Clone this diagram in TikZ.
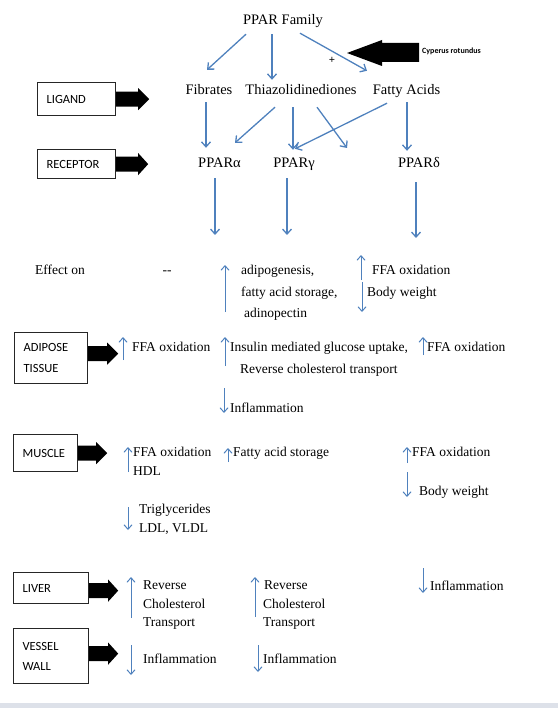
\documentclass[tikz,border=0pt]{standalone}
\usepackage{fontspec}
\setmainfont{Liberation Serif}
\newfontfamily\boxfont{Carlito}
\usetikzlibrary{arrows.meta}

\begin{document}
\begin{tikzpicture}[x=1pt,y=-1pt,
  big/.style={font=\fontsize{14.5}{17}\selectfont,inner sep=0pt,text height=10pt,text depth=3pt},
  txt/.style={font=\fontsize{13.5}{16}\selectfont,inner sep=0pt,text height=9.5pt,text depth=3pt,anchor=west},
  tag/.style={draw=black!85,line width=1.2pt,font=\boxfont\fontsize{12.5}{21}\selectfont,align=left,inner xsep=9pt,inner ysep=0pt,anchor=north west},
  conn/.style={draw=flow,line width=1.3pt,-{Straight Barb[length=5pt,width=9pt]}},
  ind/.style={draw=flow,line width=1pt,-{Straight Barb[length=4.5pt,width=8pt]}},
]
\definecolor{flow}{HTML}{4F81BD}
\definecolor{band}{HTML}{DDE1E9}
\useasboundingbox (0,0) rectangle (558,708);
\fill[band] (0,703) rectangle (558,708);
% family, ligands, receptors
\node[big] (fam) at (283,21) {PPAR Family};
\node[big] (fib) at (209,91) {Fibrates};
\node[big] (thz) at (301,91) {Thiazolidinediones};
\node[big] (fat) at (406.5,91) {Fatty Acids};
\node[big] (pa) at (219.5,164) {PPARα};
\node[big] (pg) at (294,164) {PPARγ};
\node[big] (pd) at (419,164) {PPARδ};
\coordinate (thzfree) at (347,148);
\coordinate (paeff) at (215,235);
\coordinate (pgeff) at (287,235);
\coordinate (pdeff) at (416,238);
\draw[conn] ([xshift=-37pt,yshift=-6.5pt]fam.south) -- ([xshift=-2pt,yshift=14.5pt]fib.north);
\draw[conn] ([xshift=-11pt,yshift=-6.5pt]fam.south) -- ([xshift=-29pt,yshift=4.5pt]thz.north);
\draw[conn] ([xshift=17pt,yshift=-5.5pt]fam.south) -- ([xshift=-39.5pt,yshift=13.5pt]fat.north);
\draw[conn] ([xshift=-3pt,yshift=-4.5pt]fib.south) -- ([xshift=-13.5pt,yshift=9.5pt]pa.north);
\draw[conn] ([xshift=-26pt,yshift=-9.5pt]thz.south) -- ([xshift=15.5pt,yshift=14.5pt]pa.north);
\draw[conn] ([xshift=-8pt,yshift=-9.5pt]thz.south) -- ([xshift=-1pt,yshift=7.5pt]pg.north);
\draw[conn] ([xshift=16pt,yshift=-9.5pt]thz.south) -- (thzfree);
\draw[conn] ([xshift=-19.5pt,yshift=-5.5pt]fat.south) -- ([xshift=1pt,yshift=8.5pt]pg.north);
\draw[conn] ([xshift=0.5pt,yshift=-4.5pt]fat.south) -- ([xshift=-12pt,yshift=6.5pt]pd.north);
\draw[conn] ([xshift=-4.5pt,yshift=-7.5pt]pa.south) -- (paeff);
\draw[conn] ([xshift=-7pt,yshift=-7.5pt]pg.south) -- (pgeff);
\draw[conn] ([xshift=-3pt,yshift=-11.5pt]pd.south) -- (pdeff);
% Cyperus rotundus
\node[font=\boxfont\bfseries\fontsize{8}{9}\selectfont,inner sep=0pt,anchor=west] (cyp) at (422,51) {Cyperus rotundus};
\node[font=\bfseries\fontsize{11}{12}\selectfont,inner sep=0pt] (plus) at (332,60) {+};
\fill (419,43) -- (382,43) -- (382,40) -- (347,53) -- (382,66) -- (382,62) -- (419,62) -- cycle;
% row labels
\node[tag,text width=60pt,minimum height=33pt] (lig) at (37,82) {LIGAND};
\node[tag,text width=60pt,minimum height=29pt] (rec) at (37,149) {RECEPTOR};
\node[tag,text width=55pt,minimum height=51pt] (adi) at (14,332) {ADIPOSE\\TISSUE};
\node[tag,text width=46pt,minimum height=37pt] (mus) at (13,434) {MUSCLE};
\node[tag,text width=57pt,minimum height=31pt] (liv) at (13,572) {LIVER};
\node[tag,text width=57pt,minimum height=55pt] (ves) at (13,628) {VESSEL\\[-1pt]WALL};
\fill (lig.east) +(0,-7.5) -- +(22,-7.5) -- +(22,-11) -- +(33,0) -- +(22,11) -- +(22,7.5) -- +(0,7.5) -- cycle;
\fill (rec.east) +(0,-7.5) -- +(22,-7.5) -- +(22,-11) -- +(32,0) -- +(22,11) -- +(22,7.5) -- +(0,7.5) -- cycle;
\fill ([yshift=4.5pt]adi.east) +(0,-7.5) -- +(19,-7.5) -- +(19,-11) -- +(30,0) -- +(19,11) -- +(19,7.5) -- +(0,7.5) -- cycle;
\fill (mus.east) +(0,-7.5) -- +(18,-7.5) -- +(18,-11) -- +(29,0) -- +(18,11) -- +(18,7.5) -- +(0,7.5) -- cycle;
\fill ([yshift=-2.5pt]liv.east) +(0,-7.5) -- +(19,-7.5) -- +(19,-11) -- +(29,0) -- +(19,11) -- +(19,7.5) -- +(0,7.5) -- cycle;
\fill ([yshift=2.5pt]ves.east) +(0,-7.5) -- +(19,-7.5) -- +(19,-11) -- +(29,0) -- +(19,11) -- +(19,7.5) -- +(0,7.5) -- cycle;
% effect on
\node[txt] (eff) at (35,271) {Effect on};
\node[txt,anchor=center] (none) at (167,271) {{-}{-}};
\node[txt] (pg1) at (241,271) {adipogenesis,};
\node[txt] (pg2) at (241,293) {fatty acid storage,};
\node[txt] (pg3) at (244,314) {adinopectin};
\node[txt] (pd1) at (372,271) {FFA oxidation};
\node[txt] (pd2) at (367,293) {Body weight};
\draw[ind] (225,312) -- (225,265);
\draw[ind] (361,280) -- (361,255);
\draw[ind] (362,282) -- (362,312);
% adipose tissue
\node[txt] (ad1) at (132,348) {FFA oxidation};
\node[txt] (ad2) at (230,348) {Insulin mediated glucose uptake,};
\node[txt] (ad3) at (240,370) {Reverse cholesterol transport};
\node[txt] (ad4) at (427,348) {FFA oxidation};
\node[txt] (ad5) at (230,409) {Inflammation};
\draw[ind] (123,360) -- (123,337);
\draw[ind] (225,366) -- (225,337);
\draw[ind] (423,355) -- (423,337);
\draw[ind] (224,388) -- (224,413);
% muscle
\node[txt] (mu1) at (133,453) {FFA oxidation};
\node[txt] (mu2) at (133,472) {HDL};
\node[txt] (mu3) at (233,453) {Fatty acid storage};
\node[txt] (mu4) at (412,453) {FFA oxidation};
\node[txt] (mu5) at (419,492) {Body weight};
\node[txt] (mu6) at (139,510) {Triglycerides};
\node[txt] (mu7) at (139,529) {LDL, VLDL};
\draw[ind] (128,472) -- (128,447);
\draw[ind] (228,462) -- (228,448);
\draw[ind] (407,463) -- (407,447);
\draw[ind] (407,472) -- (407,497);
\draw[ind] (128,507) -- (128,530);
% liver
\node[txt] (li1) at (143,586) {Reverse};
\node[txt] (li2) at (143,605) {Cholesterol};
\node[txt] (li3) at (143,623) {Transport};
\node[txt] (li4) at (264,586) {Reverse};
\node[txt] (li5) at (263,605) {Cholesterol};
\node[txt] (li6) at (263,623) {Transport};
\node[txt] (li7) at (430,587) {Inflammation};
\draw[ind] (131,618) -- (131,577);
\draw[ind] (255,617) -- (255,577);
\draw[ind] (423,568) -- (423,593);
% vessel wall
\node[txt] (ve1) at (143,660) {Inflammation};
\node[txt] (ve2) at (263,660) {Inflammation};
\draw[ind] (131,645) -- (131,675);
\draw[ind] (258,645) -- (258,672);
\end{tikzpicture}
\end{document}
